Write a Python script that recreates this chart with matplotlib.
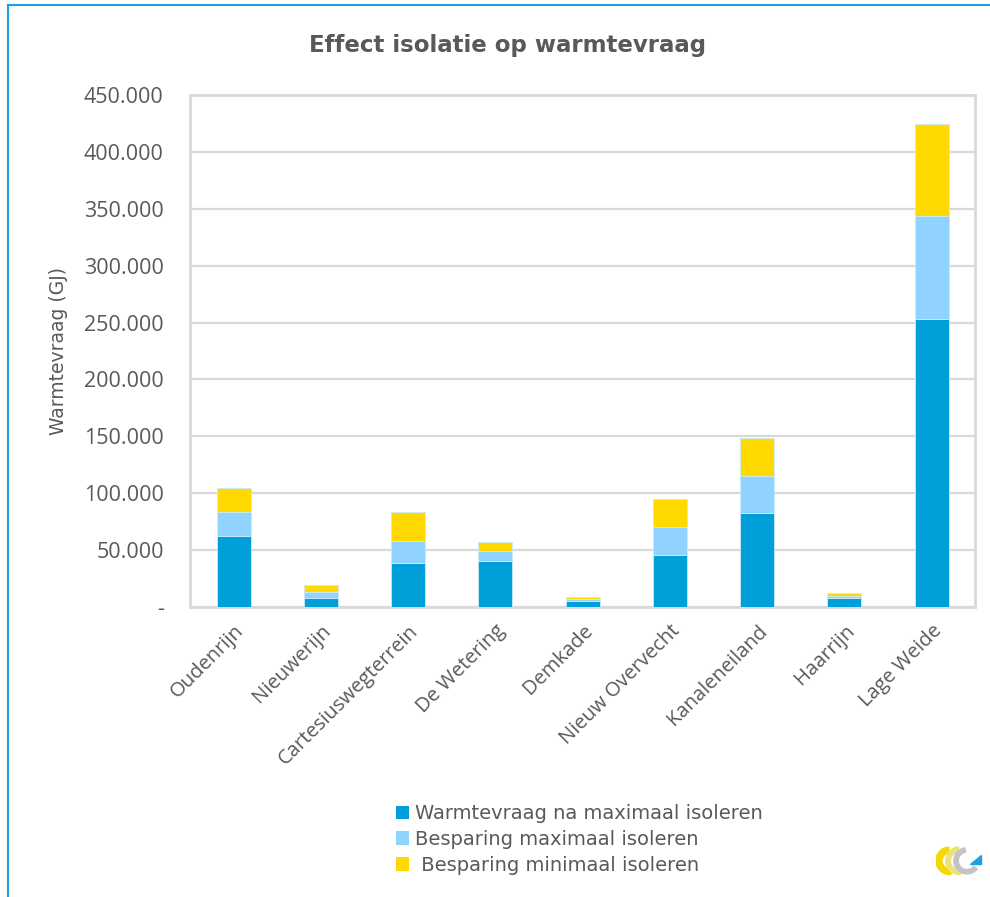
import numpy as np
import matplotlib.pyplot as plt
from matplotlib.lines import Line2D
from matplotlib.patches import Patch, Wedge, Polygon

# warmtevraag per gebied (GJ)
gebieden = ['Oudenrijn', 'Nieuwerijn', 'Cartesiuswegterrein', 'De Wetering', 'Demkade',
            'Nieuw Overvecht', 'Kanaleneiland', 'Haarrijn', 'Lage Weide']
na_max_isoleren = [62400, 7600, 38400, 40700, 5000, 45700, 82600, 8200, 252900]
besparing_max = [21100, 5900, 19900, 8500, 2000, 24900, 32800, 1500, 90700]
besparing_min = [21100, 5800, 25200, 8200, 1800, 24300, 33400, 2600, 80900]

reeksen = ['Warmtevraag na maximaal isoleren', 'Besparing maximaal isoleren',
           ' Besparing minimaal isoleren']
kleuren = ['#009FDA', '#91D3FF', '#FFD900']
tekst = '#595959'

yticks = [0, 50000, 100000, 150000, 200000, 250000, 300000, 350000, 400000, 450000]
ylabels = ['-', '50.000', '100.000', '150.000', '200.000', '250.000', '300.000',
           '350.000', '400.000', '450.000']

fig = plt.figure(figsize=(9.9, 8.97), dpi=100)
ax = fig.add_axes([0.192, 0.3233, 0.793, 0.5708])

x = np.arange(len(gebieden))
bottom = np.zeros(len(gebieden))
for waarden, kleur in zip([na_max_isoleren, besparing_max, besparing_min], kleuren):
    ax.bar(x, waarden, 0.39, bottom=bottom, color=kleur, edgecolor='#C8EBFA',
           linewidth=0.6, zorder=3)
    bottom += np.array(waarden)

ax.set_xlim(-0.5, len(gebieden) - 0.5)
ax.set_ylim(0, 450000)
ax.set_yticks(yticks)
ax.set_yticklabels(ylabels, fontsize=15.5, color=tekst, family='Open Sans')
ax.set_xticks(x)
ax.set_xticklabels(gebieden, rotation=45, ha='right', rotation_mode='anchor',
                   fontsize=14.5, color=tekst, family='Open Sans')
ax.tick_params(length=0)
ax.tick_params(axis='x', pad=10)
ax.tick_params(axis='y', pad=19)
ax.grid(axis='y', color='#D9D9D9', linewidth=1.6, zorder=0)
for s in ax.spines.values():
    s.set_color('#D9D9D9')
    s.set_linewidth(2)

ax.set_ylabel('Warmtevraag (GJ)', fontsize=13.5, color=tekst)
ax.yaxis.set_label_coords(-0.156, 0.5)

fig.text(0.513, 0.949, 'Effect isolatie op warmtevraag', ha='center', va='center',
         fontsize=16.5, fontweight='bold', color=tekst)

# legenda onder de grafiek
handles = [Patch(facecolor=k, edgecolor='none') for k in kleuren]
fig.legend(handles, reeksen, loc='center', bbox_to_anchor=(0.585, 0.064), frameon=False,
           fontsize=14, labelcolor=tekst, handlelength=0.7, handleheight=0.7,
           handletextpad=0.3, labelspacing=0.35)

# blauwe kader links en boven
fig.add_artist(Line2D([0.0081, 0.0081], [0.0, 0.9944], color='#1BA1E2', linewidth=1.5))
fig.add_artist(Line2D([0.0081, 1.0], [0.9944, 0.9944], color='#1BA1E2', linewidth=1.5))

# logo rechtsonder
logo = fig.add_axes([0.945, 0.023, 0.051, 0.038])
logo.set_xlim(0, 16)
logo.set_ylim(0, 10.9)
logo.axis('off')
logo.add_patch(Wedge((4.5, 5), 4.4, 95, 275, width=1.9, color='#F5D800'))
logo.add_patch(Wedge((7.6, 5), 4.4, 95, 275, width=1.5, color='#EDE27A'))
logo.add_patch(Wedge((10.0, 5), 4.2, 100, 320, width=1.4, color='#C4C4C4'))
logo.add_patch(Polygon([[11.0, 3.8], [14.3, 3.8], [14.3, 6.8]], color='#1BA1E2'))

fig.savefig('out.png', dpi=100)
